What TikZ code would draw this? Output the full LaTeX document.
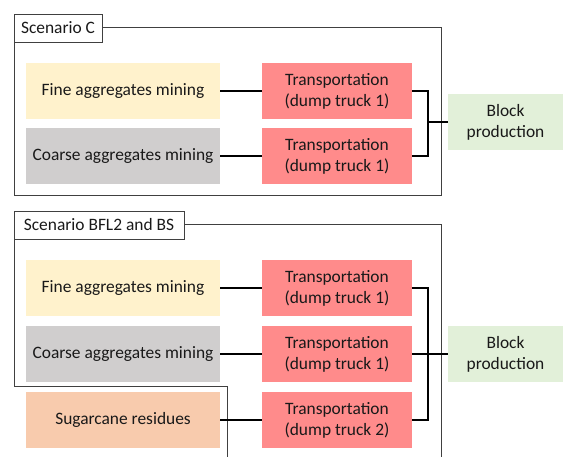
\documentclass[tikz,border=0pt]{standalone}
\usepackage{fontspec}
\setmainfont{Carlito}
\definecolor{fineclr}{HTML}{FFF2CC}
\definecolor{coarseclr}{HTML}{D0CECE}
\definecolor{sugarclr}{HTML}{F8CBAD}
\definecolor{truckclr}{HTML}{FF8B8B}
\definecolor{blockclr}{HTML}{E2F0D9}
\begin{document}
\begin{tikzpicture}[x=1pt,y=-1pt,
        box/.style={minimum height=56pt,inner sep=0pt,align=center,text=black!90,font=\fontsize{17.4}{21}\selectfont},
        src/.style={box,minimum width=194pt},
        trk/.style={box,minimum width=150pt,fill=truckclr},
        blk/.style={box,minimum width=115pt,fill=blockclr},
        tag/.style={draw=black!75,fill=white,line width=0.8pt,minimum height=28pt,inner sep=0pt,text=black!90,font=\fontsize{17.4}{21}\selectfont},
        frame/.style={draw=black!75,line width=0.8pt},
        link/.style={line width=2pt}]
        \useasboundingbox (0,0) rectangle (563,457);

        % Scenario C
        \draw[frame] (14,27) rectangle (441,195);
        \node[tag,minimum width=88pt] (tagC) at (58,28) {Scenario C};

        \node[src,fill=fineclr] (fineC) at (123,91) {Fine aggregates mining};
        \node[src,fill=coarseclr] (coarseC) at (123,156.5) {Coarse aggregates mining};
        \node[trk] (trkCa) at (337,91) {Transportation\\(dump truck 1)};
        \node[trk] (trkCb) at (337,156.5) {Transportation\\(dump truck 1)};
        \node[blk] (blockC) at (505.5,122) {Block\\production};
        \coordinate (jC) at (428,122);

        \draw[link] (fineC) -- (trkCa);
        \draw[link] (coarseC) -- (trkCb);
        \draw[link] (trkCa.east) -| (jC) |- (trkCb.east);
        \draw[link] (jC) -- (blockC);

        % Scenario BFL2 and BS
        \draw[frame] (441,457) -- (441,224) -- (14,224) -- (14,386) -- (227,386) -- (227,457);
        \node[tag,minimum width=170pt] (tagB) at (99,225) {Scenario BFL2 and BS};

        \node[src,fill=fineclr] (fineB) at (123,288) {Fine aggregates mining};
        \node[src,fill=coarseclr] (coarseB) at (123,354) {Coarse aggregates mining};
        \node[src,fill=sugarclr] (sugarB) at (123,420) {Sugarcane residues};
        \node[trk] (trkBa) at (337,288) {Transportation\\(dump truck 1)};
        \node[trk] (trkBb) at (337,354) {Transportation\\(dump truck 1)};
        \node[trk] (trkBc) at (337,420) {Transportation\\(dump truck 2)};
        \node[blk] (blockB) at (505.5,354) {Block\\production};
        \coordinate (jB) at (428,354);

        \draw[link] (fineB) -- (trkBa);
        \draw[link] (coarseB) -- (trkBb);
        \draw[link] (sugarB) -- (trkBc);
        \draw[link] (trkBa.east) -| (jB) |- (trkBc.east);
        \draw[link] (trkBb.east) -- (jB) -- (blockB);

    \end{tikzpicture}
\end{document}
